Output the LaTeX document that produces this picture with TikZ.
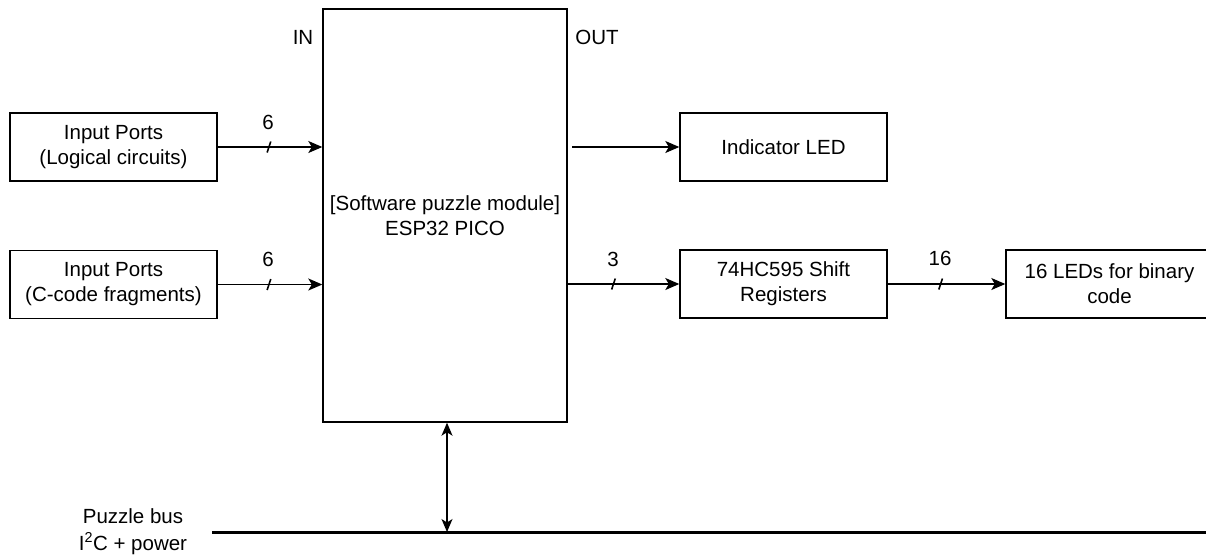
\documentclass[tikz,border=0pt]{standalone}
\usepackage{fontspec}
\setmainfont{Liberation Sans}
\usetikzlibrary{arrows.meta}
\begin{document}
\begin{tikzpicture}[x=1pt,y=-1pt,
  txt/.style={font=\fontsize{20.5}{25}\selectfont, inner sep=0pt, align=center},
  blk/.style={txt, draw, line width=1.4pt, minimum width=207pt, minimum height=68pt},
  conn/.style={line width=1.4pt, -{Stealth[length=14pt,width=12pt,inset=3.5pt]}},
  dconn/.style={line width=1.4pt, {Stealth[length=13pt,width=11pt,inset=3.5pt]}-{Stealth[length=13pt,width=11pt,inset=3.5pt]}},
  slash/.style={line width=1.6pt}
]
\useasboundingbox (0,0) rectangle (1206,558);
\clip (0,0) rectangle (1206,558);

% blocks
\node[blk] (in1) at (113.5,147) {Input Ports\\(Logical circuits)};
\node[blk] (in2) at (113.5,284.5) {Input Ports\\(C-code fragments)};
\node[txt, draw, line width=1.4pt, minimum width=244pt, minimum height=413pt] (mcu) at (445,215.5) {[Software puzzle module]\\ESP32 PICO};
\node[blk] (led) at (783.5,147) {Indicator LED};
\node[blk] (sr) at (783.5,284) {74HC595 Shift\\Registers};
\node[blk] (bin) at (1109.5,284) {16 LEDs for binary\\code};

% labels
\node[txt] (inl) at (303,37) {IN};
\node[txt] (outl) at (597,37) {OUT};
\node[txt] (w1) at (268,122) {6};
\node[txt] (w2) at (268,259) {6};
\node[txt] (w3) at (613,259) {3};
\node[txt] (w4) at (940,258) {16};
\node[txt, font=\fontsize{20.5}{27}\selectfont] (busl) at (133,531.5) {Puzzle bus\\I\textsuperscript{2}C + power};

% connectors
\draw[conn] (in1.east) -- (in1.east -| mcu.west) coordinate[pos=0.49] (t1);
\draw[conn] (in2.east) -- (in2.east -| mcu.west) coordinate[pos=0.49] (t2);
\coordinate (o1) at (572,147);
\draw[conn] (o1) -- (led.west);
\draw[conn] (sr.west -| mcu.east) -- (sr.west) coordinate[pos=0.41] (t3);
\draw[conn] (sr.east) -- (bin.west) coordinate[pos=0.45] (t4);

% bus width slashes
\foreach \t in {t1,t2,t3,t4}
  \draw[slash] ([shift={(-1.8,5.5)}]\t) -- ([shift={(1.8,-5.5)}]\t);

% puzzle bus
\coordinate (busA) at (212,532);
\coordinate (busB) at (1206,532);
\draw[line width=3pt] (busA) -- (busB);
\draw[dconn] ([xshift=2pt]mcu.south) -- ([xshift=2pt]mcu.south |- busA);
\end{tikzpicture}
\end{document}
